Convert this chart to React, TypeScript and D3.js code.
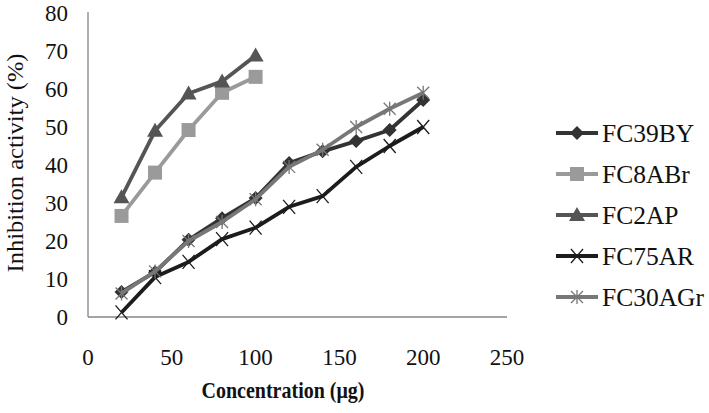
import React from "react";
import * as d3 from "d3";

const xLong = [20, 40, 60, 80, 100, 120, 140, 160, 180, 200];
const xShort = [20, 40, 60, 80, 100];
const fc39BY = [6.6, 11.8, 20.3, 26, 31.3, 40.5, 43.6, 46.3, 49.2, 57.1];
const fc8ABr = [26.6, 38, 49.2, 59, 63.2];
const fc2AP = [31.5, 49, 58.8, 62, 68.8];
const fc75AR = [1.2, 10.5, 14.5, 20.5, 23.5, 29, 31.8, 39.5, 45, 50];
const fc30AGr = [6.2, 12, 20, 25, 31, 39.5, 44, 50, 54.8, 59];
const xTicks = [0, 50, 100, 150, 200, 250];
const yTicks = [0, 10, 20, 30, 40, 50, 60, 70, 80];

type Marker = "diamond" | "square" | "triangle" | "x" | "star";
const series: { name: string; xs: number[]; ys: number[]; color: string; marker: Marker }[] = [
  { name: "FC39BY", xs: xLong, ys: fc39BY, color: "#333333", marker: "diamond" },
  { name: "FC8ABr", xs: xShort, ys: fc8ABr, color: "#9a9a9a", marker: "square" },
  { name: "FC2AP", xs: xShort, ys: fc2AP, color: "#555555", marker: "triangle" },
  { name: "FC75AR", xs: xLong, ys: fc75AR, color: "#1c1c1c", marker: "x" },
  { name: "FC30AGr", xs: xLong, ys: fc30AGr, color: "#777777", marker: "star" },
];

const FONT = "'Liberation Serif', 'DejaVu Serif', serif";

function MarkerShape({ type, x, y, color }: { type: Marker; x: number; y: number; color: string }) {
  switch (type) {
    case "diamond":
      return <path d={`M${x},${y - 7}L${x + 7},${y}L${x},${y + 7}L${x - 7},${y}Z`} fill={color} />;
    case "square":
      return <rect x={x - 7} y={y - 7} width={14} height={14} fill={color} />;
    case "triangle":
      return <path d={`M${x},${y - 8}L${x + 8},${y + 6}L${x - 8},${y + 6}Z`} fill={color} />;
    case "x":
      return (
        <path d={`M${x - 6},${y - 7}L${x + 6},${y + 7}M${x + 6},${y - 7}L${x - 6},${y + 7}`} stroke={color} strokeWidth={1.3} fill="none" />
      );
    case "star":
      return (
        <path
          d={`M${x - 6},${y - 6}L${x + 6},${y + 6}M${x + 6},${y - 6}L${x - 6},${y + 6}M${x},${y - 7}L${x},${y + 7}`}
          stroke={color}
          strokeWidth={1.3}
          fill="none"
        />
      );
  }
}

export default function App() {
  const W = 709;
  const H = 413;
  const x = d3.scaleLinear().domain([0, 250]).range([88, 507]);
  const y = d3.scaleLinear().domain([0, 80]).range([317, 13]);
  const line = d3
    .line<[number, number]>()
    .x((d) => x(d[0]))
    .y((d) => y(d[1]));

  const legendY0 = 133;
  const legendStep = 41;

  return (
    <svg width={W} height={H} style={{ position: "absolute", left: 0, top: 0, background: "#fff" }}>
      <rect width={W} height={H} fill="#fff" />
      {/* axes */}
      <line x1={x(0)} x2={x(0)} y1={y(80) - 1} y2={y(0)} stroke="#868686" strokeWidth={1.3} />
      <line x1={x(0)} x2={x(250)} y1={y(0)} y2={y(0)} stroke="#868686" strokeWidth={1.3} />
      {yTicks.map((t) => (
        <text key={"y" + t} x={68} y={y(t)} dy="0.35em" textAnchor="end" fontFamily={FONT} fontSize={23} fill="#111">
          {t}
        </text>
      ))}
      {xTicks.map((t) => (
        <text key={"x" + t} x={x(t)} y={365} textAnchor="middle" fontFamily={FONT} fontSize={23} fill="#111">
          {t}
        </text>
      ))}
      <text
        transform="translate(283,398) scale(1,1.2)"
        textAnchor="middle"
        fontFamily={FONT}
        fontSize={20}
        fontWeight="bold"
        fill="#111"
      >
        Concentration (μg)
      </text>
      <text
        transform={`translate(23,163) rotate(-90)`}
        textAnchor="middle"
        fontFamily={FONT}
        fontSize={24}
        textLength={219}
        lengthAdjust="spacingAndGlyphs"
        fill="#111"
      >
        Inhibition activity (%)
      </text>
      {/* series */}
      {series.map((s) => {
        const pts = s.xs.map((xv, i) => [xv, s.ys[i]] as [number, number]);
        return (
          <g key={s.name}>
            <path d={line(pts) || ""} fill="none" stroke={s.color} strokeWidth={3.8} strokeLinejoin="round" />
            {pts.map((p, i) => (
              <MarkerShape key={i} type={s.marker} x={x(p[0])} y={y(p[1])} color={s.color} />
            ))}
          </g>
        );
      })}
      {/* legend */}
      {series.map((s, i) => {
        const ly = legendY0 + i * legendStep;
        return (
          <g key={"lg" + s.name}>
            <line x1={556} x2={598} y1={ly} y2={ly} stroke={s.color} strokeWidth={3.8} />
            <MarkerShape type={s.marker} x={577} y={ly} color={s.color} />
            <text x={602} y={ly} dy="0.35em" fontFamily={FONT} fontSize={25.5} fill="#111">
              {s.name}
            </text>
          </g>
        );
      })}
    </svg>
  );
}
